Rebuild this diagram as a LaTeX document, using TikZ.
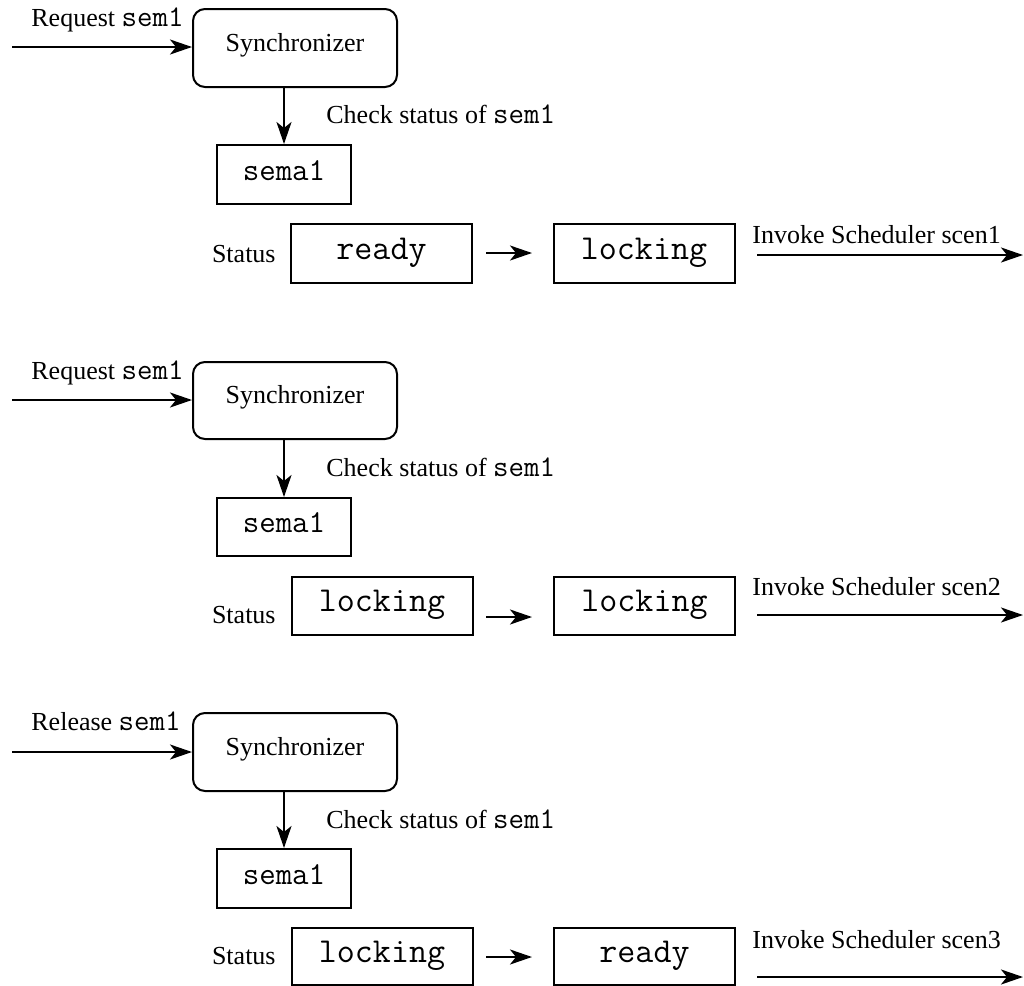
\documentclass[tikz,border=0pt]{standalone}
\usepackage{fontspec}
\setmainfont{Liberation Serif}
\usetikzlibrary{arrows.meta}

\newcommand\lblsize{\fontsize{13}{15}\selectfont}
\newcommand\semasize{\fontsize{16}{18}\selectfont\ttfamily}
\newcommand\statsize{\fontsize{17.5}{20}\selectfont\ttfamily}
\newcommand\code[1]{{\fontsize{15}{15}\selectfont\ttfamily #1}}

\tikzset{
  syncbox/.style={draw, line width=1pt, rounded corners=6pt, inner sep=0pt,
    minimum width=102pt, minimum height=39pt, font=\lblsize,
    text height=0.7em, text depth=0.38em},
  semabox/.style={draw, line width=1pt, inner sep=0pt,
    minimum width=67pt, minimum height=29.5pt, font=\semasize,
    text height=0.57em, text depth=0.02em},
  statbox/.style={draw, line width=1pt, inner sep=0pt,
    minimum width=90.5pt, minimum height=29.5pt, font=\statsize,
    text height=0.6em, text depth=0.03em},
  lbl/.style={inner sep=0pt, font=\lblsize},
  arr/.style={line width=1.15pt, -{Stealth[length=11pt, width=7.5pt, inset=3pt]}},
}

\begin{document}
\begin{tikzpicture}[x=0.5pt, y=-0.5pt]
\useasboundingbox (0,0) rectangle (1024,986);

% ---------- first request ----------
\node[syncbox] (s1) at (295,48) {Synchronizer};
\node[semabox] (m1) at (284,174.5) {sema1};
\node[statbox] (a1) at (381.5,253.5) {ready};
\node[statbox] (b1) at (644,253.5) {locking};
\node[lbl, anchor=base west] (r1) at (31,26) {Request \code{sem1}};
\node[lbl, anchor=base west] (c1) at (326,123) {Check status of \code{sem1}};
\node[lbl, anchor=base east] (t1) at (276,262) {Status};
\node[lbl, anchor=base west] (v1) at (752,243) {Invoke Scheduler scen1};
\coordinate (i1) at (12,47);
\coordinate (p1) at (486,253);
\coordinate (q1) at (532,253);
\coordinate (o1) at (757,255);
\coordinate (e1) at (1023,255);
\draw[arr] (i1) -- (i1 -| s1.west);
\draw[arr] (m1.north |- s1.south) -- (m1.north);
\draw[arr] (p1) -- (q1);
\draw[arr] (o1) -- (e1);

% ---------- second request ----------
\node[syncbox, minimum height=38.5pt] (s2) at (295,400.5) {Synchronizer};
\node[semabox, minimum height=29pt] (m2) at (284,527) {sema1};
\node[statbox, minimum height=29pt] (a2) at (382,606) {locking};
\node[statbox, minimum height=29pt] (b2) at (644.5,606) {locking};
\node[lbl, anchor=base west] (r2) at (31,379) {Request \code{sem1}};
\node[lbl, anchor=base west] (c2) at (326,476) {Check status of \code{sem1}};
\node[lbl, anchor=base east] (t2) at (276,623) {Status};
\node[lbl, anchor=base west] (v2) at (752,595) {Invoke Scheduler scen2};
\coordinate (i2) at (12,400);
\coordinate (p2) at (486,617);
\coordinate (q2) at (532,617);
\coordinate (o2) at (757,615);
\coordinate (e2) at (1023,615);
\draw[arr] (i2) -- (i2 -| s2.west);
\draw[arr] (m2.north |- s2.south) -- (m2.north);
\draw[arr] (p2) -- (q2);
\draw[arr] (o2) -- (e2);

% ---------- release ----------
\node[syncbox] (s3) at (295,752) {Synchronizer};
\node[semabox] (m3) at (284,878.5) {sema1};
\node[statbox, minimum height=28.5pt] (a3) at (382,956.5) {locking};
\node[statbox, minimum height=28.5pt] (b3) at (644.5,956.5) {ready};
\node[lbl, anchor=base west] (r3) at (31,730) {Release \code{sem1}};
\node[lbl, anchor=base west] (c3) at (326,828) {Check status of \code{sem1}};
\node[lbl, anchor=base east] (t3) at (276,964) {Status};
\node[lbl, anchor=base west] (v3) at (752,948) {Invoke Scheduler scen3};
\coordinate (i3) at (12,752);
\coordinate (p3) at (486,957);
\coordinate (q3) at (532,957);
\coordinate (o3) at (757,977);
\coordinate (e3) at (1023,977);
\draw[arr] (i3) -- (i3 -| s3.west);
\draw[arr] (m3.north |- s3.south) -- (m3.north);
\draw[arr] (p3) -- (q3);
\draw[arr] (o3) -- (e3);
\end{tikzpicture}
\end{document}
